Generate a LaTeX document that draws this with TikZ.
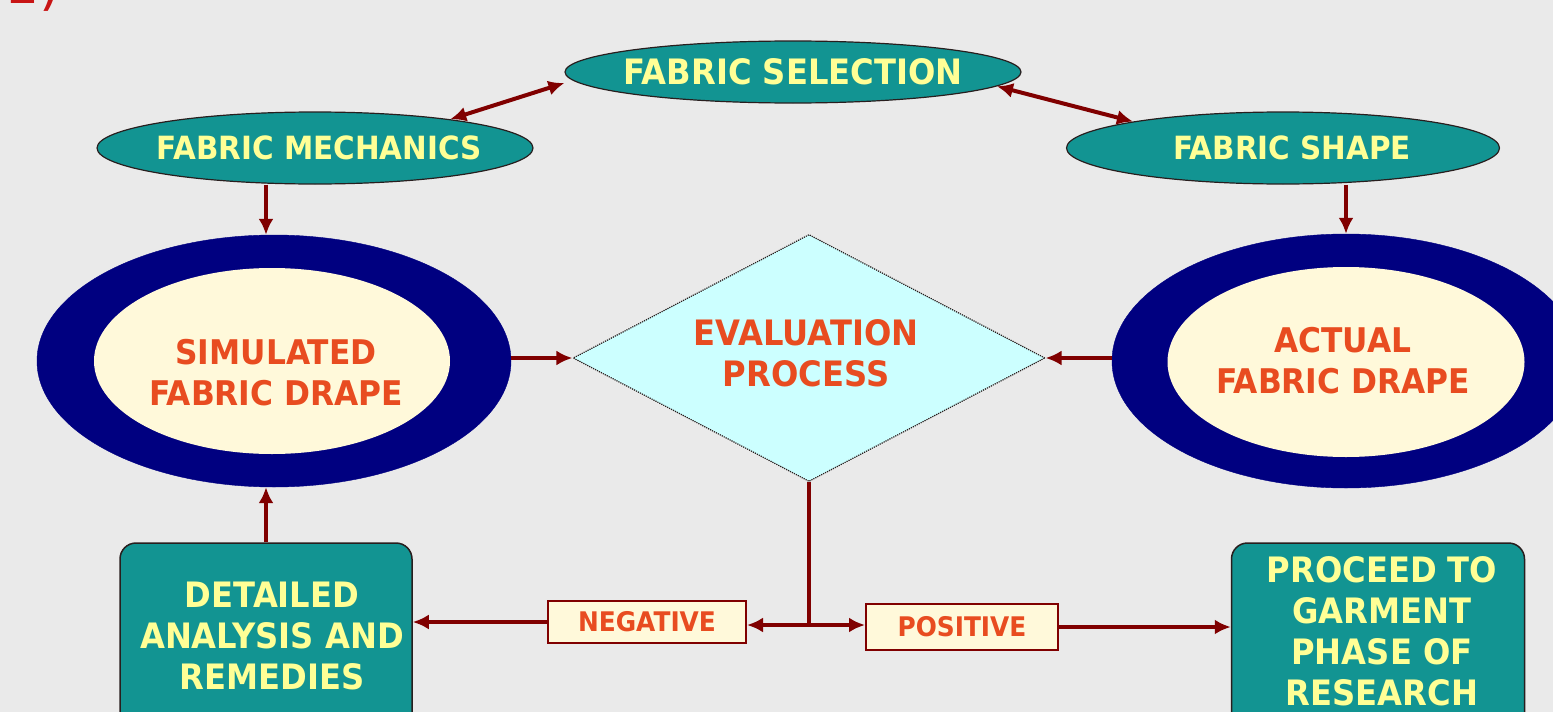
\documentclass[tikz,border=0pt]{standalone}
\usepackage{fontspec}
\usetikzlibrary{shapes.geometric,arrows.meta,calc}
\newfontfamily\lblfont{DejaVu Sans}[FakeStretch=0.92]

\definecolor{bgray}{RGB}{234,234,234}
\definecolor{tealfill}{RGB}{18,148,146}
\definecolor{paleyellow}{RGB}{255,255,150}
\definecolor{ringnavy}{RGB}{0,0,128}
\definecolor{creamfill}{RGB}{255,249,218}
\definecolor{redtext}{RGB}{232,76,32}
\definecolor{linered}{RGB}{128,0,0}
\definecolor{cyanfill}{RGB}{204,255,255}
\definecolor{edgedark}{RGB}{40,30,30}

\tikzset{
  fs/.style={font=\lblfont\bfseries\fontsize{#1}{41}\selectfont},
  topoval/.style={ellipse, draw=edgedark, line width=1.2pt, fill=tealfill, inner sep=0pt},
  ringout/.style={ellipse, fill=ringnavy, draw=ringnavy, inner sep=0pt},
  ringin/.style={ellipse, fill=creamfill, inner sep=0pt},
  redlbl/.style={text=redtext, align=center, inner sep=0pt, fs=34},
  decision/.style={diamond, aspect=1.9, draw=edgedark, densely dotted, line width=1.2pt,
    fill=cyanfill, inner sep=0pt},
  tealbox/.style={rectangle, rounded corners=16pt, draw=edgedark, line width=1.5pt,
    fill=tealfill},
  yellowlbl/.style={text=paleyellow, align=center, inner sep=0pt, fs=35},
  tagbox/.style={rectangle, draw=linered, line width=2pt, fill=creamfill,
    text=redtext, inner sep=0pt, fs=27},
  link/.style={draw=linered, line width=4pt},
  tip/.tip={Latex[length=16pt,width=15pt]},
  arr/.style={link, -tip},
  dblarr/.style={link, tip-tip},
}

\begin{document}
\begin{tikzpicture}[x=1pt,y=-1pt]
  % canvas
  \fill[bgray] (0,0) rectangle (1553,712);
  \useasboundingbox (0,0) rectangle (1553,712);

  % panel number, cut by the top edge
  \node[anchor=base west, inner sep=0pt, text={rgb,255:red,200;green,20;blue,20},
        font=\lblfont\fontsize{60}{60}\selectfont] (num) at (4,4) {1)};

  % upper row of ovals
  \node[topoval, minimum width=456pt, minimum height=62pt] (sel) at (793,72) {};
  \node[yellowlbl] (seltxt) at (793,72) {FABRIC SELECTION};
  \node[topoval, minimum width=436pt, minimum height=72pt] (mech) at (315,148) {};
  \node[yellowlbl, fs=32] (mechtxt) at (319,148) {FABRIC MECHANICS};
  \node[topoval, minimum width=433pt, minimum height=72pt] (shape) at (1283,148) {};
  \node[yellowlbl, fs=32] (shapetxt) at (1292,148) {FABRIC SHAPE};

  % drape rings
  \node[ringout, minimum width=474pt, minimum height=252pt] (simout) at (274,361) {};
  \node[ringin, minimum width=356pt, minimum height=186pt] (sim) at (272,361) {};
  \node[redlbl] (simtxt) at (276,373) {SIMULATED\\FABRIC DRAPE};
  \node[ringout, minimum width=468pt, minimum height=254pt] (actout) at (1346,361) {};
  \node[ringin, minimum width=357pt, minimum height=190pt] (act) at (1346,362) {};
  \node[redlbl] (acttxt) at (1343,361) {ACTUAL\\FABRIC DRAPE};

  % evaluation
  \node[decision, minimum width=472pt, minimum height=247pt] (dia) at (809,358) {};
  \node[redlbl, fs=35, text depth=0pt] (diatxt) at (806,353) {EVALUATION\\PROCESS};

  % outcome boxes
  \node[tealbox, minimum width=292pt, minimum height=186pt] (det) at (266,636) {};
  \node[yellowlbl] (dettxt) at (272,636) {DETAILED\\ANALYSIS AND\\REMEDIES};
  \node[tealbox, minimum width=293pt, minimum height=186pt] (proc) at (1378,636) {};
  \node[yellowlbl] (proctxt) at (1382,631) {PROCEED TO\\GARMENT\\PHASE OF\\RESEARCH};
  \node[tagbox, minimum width=198pt, minimum height=42pt] (neg) at (647,622) {NEGATIVE};
  \node[tagbox, minimum width=192pt, minimum height=46pt] (pos) at (962,627) {POSITIVE};

  % connectors
  \draw[dblarr] ($(sel.west)+(0,11)$) -- (mech.12);
  \draw[dblarr] (sel.-4) -- (shape.170);
  \draw[arr] (mech.south -| det.north) -- (simout.north -| det.north);
  \draw[arr] (shape.south -| actout.north) -- (actout.north);
  \draw[arr] (simout.east |- dia.west) -- (dia.west);
  \draw[arr] (actout.west |- dia.east) -- (dia.east);
  \draw[arr] (det.north) -- (det.north |- simout.south);

  \coordinate (split) at (dia.south |- 0,625);
  \draw[link] (dia.south) -- (split);
  \draw[arr] (split) -- (split -| neg.east);
  \draw[arr] (split) -- (split -| pos.west);
  \draw[arr] (neg.west) -- (neg.west -| det.east);
  \draw[arr] (pos.east) -- (pos.east -| proc.west);
\end{tikzpicture}
\end{document}
